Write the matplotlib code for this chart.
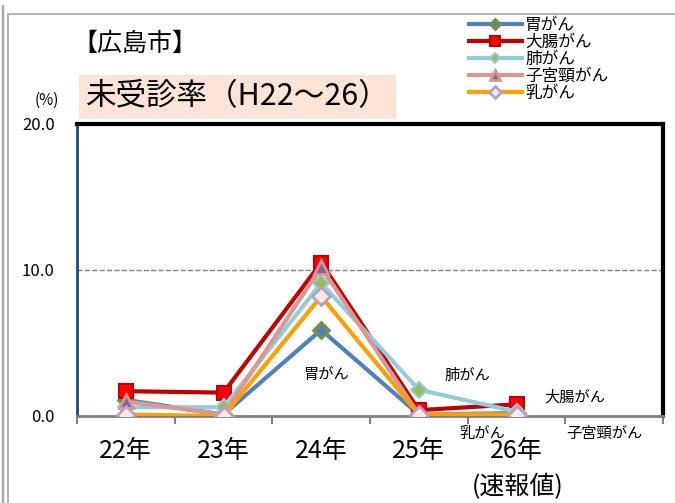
import matplotlib.pyplot as plt
from matplotlib.patches import Rectangle

plt.rcParams['font.family'] = ['Noto Sans CJK JP', 'DejaVu Sans']

years = ["22年", "23年", "24年", "25年", "26年", ""]
stomach = [1.1, 0.1, 5.9, 0.1, 0.2]
colon = [1.7, 1.6, 10.5, 0.4, 0.8]
lung = [0.6, 0.6, 9.1, 1.8, 0.3]
cervix = [1.0, 0.1, 10.2, 0.1, 0.1]
breast = [0.1, 0.0, 8.2, 0.1, 0.1]

fig = plt.figure(figsize=(6.75, 5.03), dpi=100)
ax = fig.add_axes([77/675, 1-416/503, 586/675, 292/503])

# outer frame
fig.patches.append(Rectangle((8/675, -0.01), 0.995, 0.998-8/503, transform=fig.transFigure,
                             fill=False, edgecolor='#A6A6A6', lw=1.2))
fig.patches.append(Rectangle((2/675, -0.01), 0.001, 1.0, transform=fig.transFigure,
                             fill=False, edgecolor='#A6A6A6', lw=1.0))

x = list(range(len(stomach)))
lw = 3.0
ax.plot(x, stomach, color='#4F81BD', lw=lw, marker='D', ms=8, mfc='#4F81BD',
        mec='#77933C', mew=2, label='胃がん', zorder=3)
ax.plot(x, colon, color='#C00000', lw=lw, marker='s', ms=10, mfc='#FF0000',
        mec='#C00000', mew=1.5, label='大腸がん', zorder=3)
ax.plot(x, lung, color='#93CDDD', lw=lw, marker='D', ms=8, mfc='#9BBB59',
        mec='#93CDDD', mew=1.5, label='肺がん', zorder=3)
ax.plot(x, cervix, color='#D99694', lw=lw, marker='^', ms=10, mfc='#8064A2',
        mec='#D99694', mew=2, label='子宮頸がん', zorder=3)
ax.plot(x, breast, color='#FFA000', lw=lw, marker='D', ms=9, mfc='#FDEADA',
        mec='#B3A2C7', mew=2, label='乳がん', zorder=3)

ax.set_xlim(-0.5, 5.5)
ax.set_ylim(0, 20)
ax.set_yticks([0, 10, 20])
ax.set_yticklabels(['0.0', '10.0', '20.0'], fontsize=12)
ax.set_xticks(x + [5])
ax.set_xticklabels(years, fontsize=18)
ax.set_xticks([i - 0.5 for i in range(7)], minor=True)
ax.tick_params(axis='x', which='major', length=0, pad=16)
ax.tick_params(axis='x', which='minor', length=6, color='#808080', width=1.5, direction='out')
ax.tick_params(axis='y', length=0, pad=16)
ax.axhline(10, color='#808080', ls='--', lw=1.0, zorder=1)

ax.spines['top'].set_linewidth(3)
ax.spines['top'].set_color('black')
ax.spines['right'].set_linewidth(3)
ax.spines['right'].set_color('black')
ax.spines['left'].set_color('#1F497D')
ax.spines['left'].set_linewidth(2)
ax.spines['bottom'].set_color('#808080')
ax.spines['bottom'].set_linewidth(2)

# series labels
ax.text(2.05, 2.5, '胃がん', fontsize=11, ha='center')
ax.text(3.5, 2.5, '肺がん', fontsize=11, ha='center')
ax.text(4.6, 1.0, '大腸がん', fontsize=11, ha='center')
ax.text(3.65, -1.5, '乳がん', fontsize=11, ha='center')
ax.text(4.9, -1.5, '子宮頸がん', fontsize=11, ha='center')

fig.text(72/675, 1-44/503, '【広島市】', fontsize=18, va='center')
fig.text(86/675, 1-97/503, '未受診率（H22～26）', fontsize=22, va='center',
         bbox=dict(boxstyle='square,pad=0.22', fc='#FCE4D6', ec='none'))
fig.text(47/675, 1-100/503, '(%)', fontsize=11, ha='center', va='center')
fig.text(518/675, 1-487/503, '(速報値)', fontsize=18, ha='center', va='center')

fig.legend(loc='upper left', bbox_to_anchor=(462/675, 1-10/503), frameon=False,
           fontsize=12, handlelength=3.2, labelspacing=0.0, handletextpad=0.2,
           borderaxespad=0, markerscale=0.7)

fig.savefig('out.png', dpi=100)
